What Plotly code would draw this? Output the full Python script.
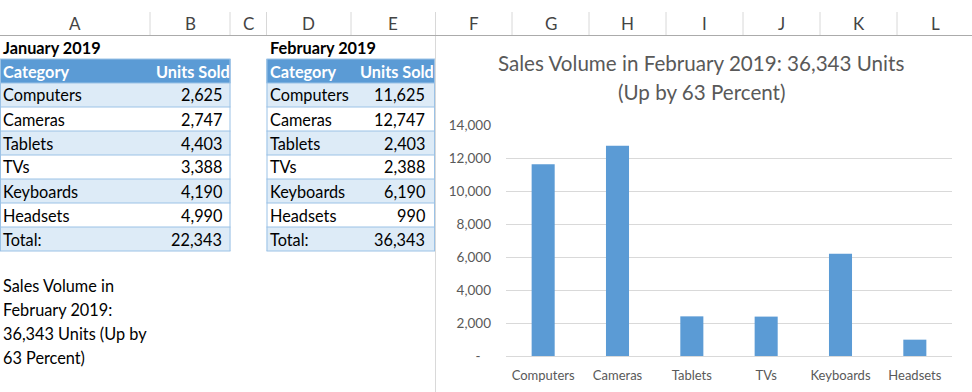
import plotly.graph_objects as go

# ---------------- data ----------------
categories = ["Computers", "Cameras", "Tablets", "TVs", "Keyboards", "Headsets"]
jan_units = [2625, 2747, 4403, 3388, 4190, 4990]
feb_units = [11625, 12747, 2403, 2388, 6190, 990]
col_letters = ["A", "B", "C", "D", "E", "F", "G", "H", "I", "J", "K", "L"]
y_tick_vals = [0, 2000, 4000, 6000, 8000, 10000, 12000, 14000]
y_tick_text = ["-\u00a0\u00a0\u00a0", "2,000", "4,000", "6,000", "8,000", "10,000", "12,000", "14,000"]

jan_total = sum(jan_units)
feb_total = sum(feb_units)
pct_up = round((feb_total / jan_total - 1) * 100)

# ---------------- layout helpers ----------------
W, H = 972, 392
FONT = "Lato, 'Open Sans', sans-serif"
SHEET_SIZE = 16.3
BLUE = "#5B9BD5"
LIGHT = "#DDEBF7"
BORDER = "#9BC2E6"

def px(x):
    return x / W

def py(y):
    return 1 - y / H

shapes = []
annotations = []

def rect(x0, y0, x1, y1, fill):
    shapes.append(dict(type="rect", xref="paper", yref="paper",
                       x0=px(x0), x1=px(x1), y0=py(y1), y1=py(y0),
                       fillcolor=fill, line=dict(width=0), layer="below"))

def hline(x0, x1, y, color, width=1):
    shapes.append(dict(type="line", xref="paper", yref="paper",
                       x0=px(x0), x1=px(x1), y0=py(y), y1=py(y),
                       line=dict(color=color, width=width), layer="below"))

def vline(x, y0, y1, color, width=1):
    shapes.append(dict(type="line", xref="paper", yref="paper",
                       x0=px(x), x1=px(x), y0=py(y0), y1=py(y1),
                       line=dict(color=color, width=width), layer="below"))

def text(x, y, s, anchor="left", size=SHEET_SIZE, color="#000000", bold=False):
    if bold:
        s = "<b>" + s + "</b>"
    annotations.append(dict(xref="paper", yref="paper", x=px(x), y=py(y), text=s,
                            showarrow=False, xanchor=anchor, yanchor="middle",
                            borderpad=0, borderwidth=0,
                            font=dict(family=FONT, size=size, color=color)))

# ---------------- column header row ----------------
col_edges = [0, 150, 230, 266.5, 351, 435.5, 512, 589, 666, 743, 820, 897, 974]
for i, letter in enumerate(col_letters):
    text((col_edges[i] + col_edges[i + 1]) / 2, 24, letter, anchor="center",
         size=17, color="#444444")
    if i > 0:
        vline(col_edges[i], 12, 35, "#D8D8D8")
hline(0, W, 35.5, "#ABABAB")

# ---------------- tables ----------------
ROW_H = 24
HEAD_TOP = 59

def draw_table(x0, x1, title, values, total, value_pad):
    text(x0 + 3, 47, title, bold=True)
    rect(x0, HEAD_TOP, x1, HEAD_TOP + ROW_H, BLUE)
    text(x0 + 3, HEAD_TOP + ROW_H / 2, "Category", color="white", bold=True)
    text(x1 - 1, HEAD_TOP + ROW_H / 2, "Units Sold", anchor="right", color="white", bold=True)
    labels = categories + ["Total:"]
    vals = values + [total]
    for i, (lab, v) in enumerate(zip(labels, vals)):
        top = HEAD_TOP + ROW_H * (i + 1)
        rect(x0, top, x1, top + ROW_H, LIGHT if i % 2 == 0 else "white")
        text(x0 + 3, top + ROW_H / 2, lab)
        text(x1 - value_pad, top + ROW_H / 2, f"{v:,}", anchor="right")
    bottom = HEAD_TOP + ROW_H * (len(labels) + 1)
    for i in range(len(labels) + 2):
        hline(x0, x1, HEAD_TOP + ROW_H * i, BORDER)
    vline(x0 + 0.5, HEAD_TOP, bottom, BORDER)
    vline(x1 - 0.5, HEAD_TOP, bottom, BORDER)

draw_table(0, 230.5, "January 2019", jan_units, jan_total, 9)
draw_table(266.5, 435, "February 2019", feb_units, feb_total, 10)

# sheet note
note_lines = ["Sales Volume in", "February 2019:",
              f"{feb_total:,} Units (Up by", f"{pct_up} Percent)"]
for i, ln in enumerate(note_lines):
    text(3, 285 + 24 * i, ln)

# chart border
vline(435.5, 36, H, "#D9D9D9")

# chart title (two lines, Excel line spacing)
title_lines = [f"Sales Volume in February 2019: {feb_total:,} Units", f"(Up by {pct_up} Percent)"]
for i, ln in enumerate(title_lines):
    text(701, 63 + 29 * i, ln, anchor="center", size=20.6, color="#595959")

# ---------------- chart ----------------
fig = go.Figure(go.Bar(x=categories, y=feb_units, marker=dict(color=BLUE, line=dict(width=0)),
                       hoverinfo="x+y"))

fig.update_layout(
    width=W, height=H,
    margin=dict(l=0, r=0, t=0, b=0, autoexpand=False),
    paper_bgcolor="white", plot_bgcolor="rgba(0,0,0,0)",
    bargap=0.69,
    showlegend=False,
    shapes=shapes,
    annotations=annotations,
    xaxis=dict(domain=[px(506), px(952)], showgrid=False, showline=False, zeroline=False,
               automargin=False,
               ticks="", tickfont=dict(family=FONT, size=13, color="#595959"),
               ticklabelstandoff=10, fixedrange=True),
    yaxis=dict(domain=[py(356), py(125)], range=[0, 14000], showgrid=True,
               automargin=False,
               gridcolor="#D9D9D9", gridwidth=1, zeroline=True, zerolinecolor="#D9D9D9",
               zerolinewidth=1, showline=False, ticks="",
               tickvals=y_tick_vals, ticktext=y_tick_text,
               tickfont=dict(family=FONT, size=13.5, color="#595959"),
               ticklabelstandoff=14, fixedrange=True),
)

fig.write_html("out.html", config={"displayModeBar": False},
               post_script="document.body.style.margin='0';")
